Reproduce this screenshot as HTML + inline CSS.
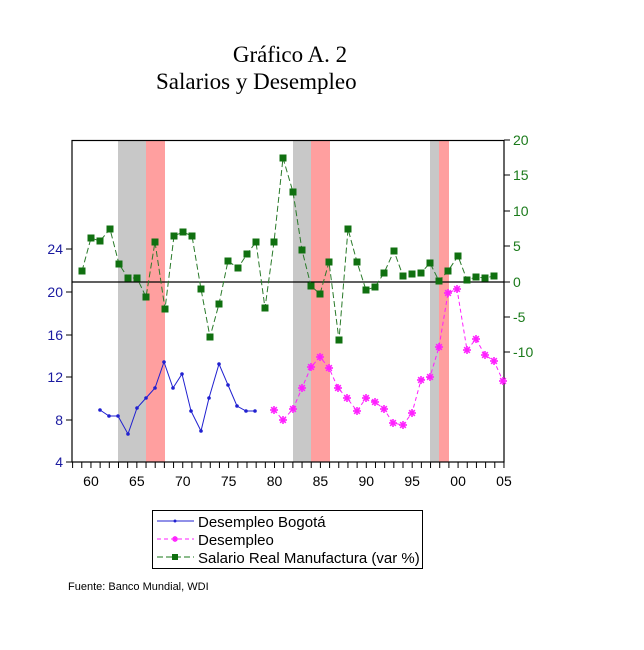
<!DOCTYPE html>
<html><head><meta charset="utf-8"><style>
body{margin:0;background:#fff;width:644px;height:650px;overflow:hidden}
svg{display:block}
</style></head><body>
<svg id="s" width="644" height="650" xmlns="http://www.w3.org/2000/svg" font-family="Liberation Sans, sans-serif">
<text x="290" y="62" font-family="Liberation Serif, serif" font-size="23" text-anchor="middle">Gráfico A. 2</text>
<text x="156" y="89" font-family="Liberation Serif, serif" font-size="23">Salarios y Desempleo</text>
<rect x="118" y="141" width="28" height="321" fill="#c8c8c8"/>
<rect x="146" y="141" width="19" height="321" fill="#ff9f9f"/>
<rect x="293" y="141" width="18" height="321" fill="#c8c8c8"/>
<rect x="311" y="141" width="19" height="321" fill="#ff9f9f"/>
<rect x="430" y="141" width="9" height="321" fill="#c8c8c8"/>
<rect x="439" y="141" width="10" height="321" fill="#ff9f9f"/>
<line x1="72" y1="282" x2="504" y2="282" stroke="#000" stroke-width="1.3"/>
<rect x="72" y="140.5" width="432" height="321.5" fill="none" stroke="#000" stroke-width="1.2"/>
<g id="ax"></g>
<g id="series"></g>
<rect x="152.5" y="510.5" width="270" height="58" fill="none" stroke="#000"/>
<line x1="157" y1="521" x2="194" y2="521" stroke="#2020d0"/><circle cx="175" cy="521" r="1.5" fill="#2020d0"/>
<line x1="157" y1="539" x2="194" y2="539" stroke="#ff20ff" stroke-dasharray="4,3"/>
<g stroke="#ff20ff" stroke-width="1.5"><line x1="172" y1="539" x2="178" y2="539"/><line x1="175" y1="536" x2="175" y2="542"/><line x1="173" y1="537" x2="177" y2="541"/><line x1="177" y1="537" x2="173" y2="541"/></g>
<line x1="157" y1="557" x2="194" y2="557" stroke="#1a7a1a" stroke-dasharray="6,3"/><rect x="172" y="554" width="6" height="6" fill="#107010"/>
<text x="198" y="527" font-size="15">Desempleo Bogotá</text>
<text x="198" y="545" font-size="15">Desempleo</text>
<text x="198" y="563" font-size="15">Salario Real Manufactura (var %)</text>
<text x="68" y="590" font-size="11">Fuente: Banco Mundial, WDI</text>
</svg>
<script>
const NS="http://www.w3.org/2000/svg";
function el(p,t,a,txt){const e=document.createElementNS(NS,t);for(const k in a)e.setAttribute(k,a[k]);if(txt!==undefined)e.textContent=txt;p.appendChild(e);return e;}
const ax=document.getElementById('ax'),se=document.getElementById('series');
const X=y=>72.6+(y-1958)*9.178;
for(let y=1958;y<=2005;y++){el(ax,'line',{x1:X(y),y1:462,x2:X(y),y2:468,stroke:'#000'});}
[60,65,70,75,80,85,90,95,0,5].forEach((v,i)=>{const yr=1960+i*5;el(ax,'text',{x:X(yr),y:486,'font-size':14,'text-anchor':'middle'},v<10?'0'+v:v);});
[[24,249],[20,292],[16,335],[12,377],[8,420],[4,462]].forEach(([v,y])=>{el(ax,'line',{x1:66,y1:y,x2:72,y2:y,stroke:'#000'});el(ax,'text',{x:63,y:y+5,'font-size':14,'text-anchor':'end',fill:'#1a1aa0'},v);});
[[20,140],[15,175],[10,211],[5,246],[0,282],[-5,317],[-10,352]].forEach(([v,y])=>{el(ax,'line',{x1:504,y1:y,x2:510,y2:y,stroke:'#000'});el(ax,'text',{x:513,y:y+5,'font-size':14,fill:'#1a7a1a'},v);});
const G=[[82,271],[91,238],[100,241],[110,229],[119,264],[128,278],[137,278],[146,297],[155,242],[165,309],[174,236],[183,232],[192,236],[201,289],[210,337],[219,304],[228,261],[238,268],[247,254],[256,242],[265,308],[274,242],[283,158],[293,192],[302,250],[311,286],[320,294],[329,262],[339,340],[348,229],[357,262],[366,290],[375,287],[384,273],[394,251],[403,276],[412,274],[421,273],[430,263],[439,281],[448,271],[458,256],[467,280],[476,277],[485,278],[494,276]];
const B=[[100,410],[109,416],[118,416],[128,434],[137,408],[146,398],[155,388],[164,362],[173,388],[182,374],[191,411],[201,431],[209,398],[219,364],[228,385],[237,406],[246,411],[255,411]];
const M=[[274,410],[283,420],[293,409],[302,388],[311,367],[320,357],[329,368],[338,388],[347,398],[357,411],[366,398],[375,402],[384,409],[393,423],[403,425],[412,413],[421,380],[430,377],[439,347],[448,293],[457,289],[467,350],[476,339],[485,355],[494,361],[503,381]];
const pts=a=>a.map(p=>p.join(',')).join(' ');
el(se,'polyline',{points:pts(G),fill:'none',stroke:'#2a7a2a','stroke-dasharray':'6,3','stroke-width':1});
G.forEach(([x,y])=>el(se,'rect',{x:x-3.5,y:y-3.5,width:7,height:7,fill:'#107010'}));
el(se,'polyline',{points:pts(B),fill:'none',stroke:'#2020d0','stroke-width':1});
B.forEach(([x,y])=>el(se,'circle',{cx:x,cy:y,r:1.8,fill:'#2020d0'}));
el(se,'polyline',{points:pts(M),fill:'none',stroke:'#ff20ff','stroke-dasharray':'4,3','stroke-width':1});
M.forEach(([x,y])=>{for(let a=0;a<180;a+=45){const r=4,c=Math.cos(a*Math.PI/180)*r,s=Math.sin(a*Math.PI/180)*r;el(se,'line',{x1:x-c,y1:y-s,x2:x+c,y2:y+s,stroke:'#ff20ff','stroke-width':1.6});}});
</script>
</body></html>
